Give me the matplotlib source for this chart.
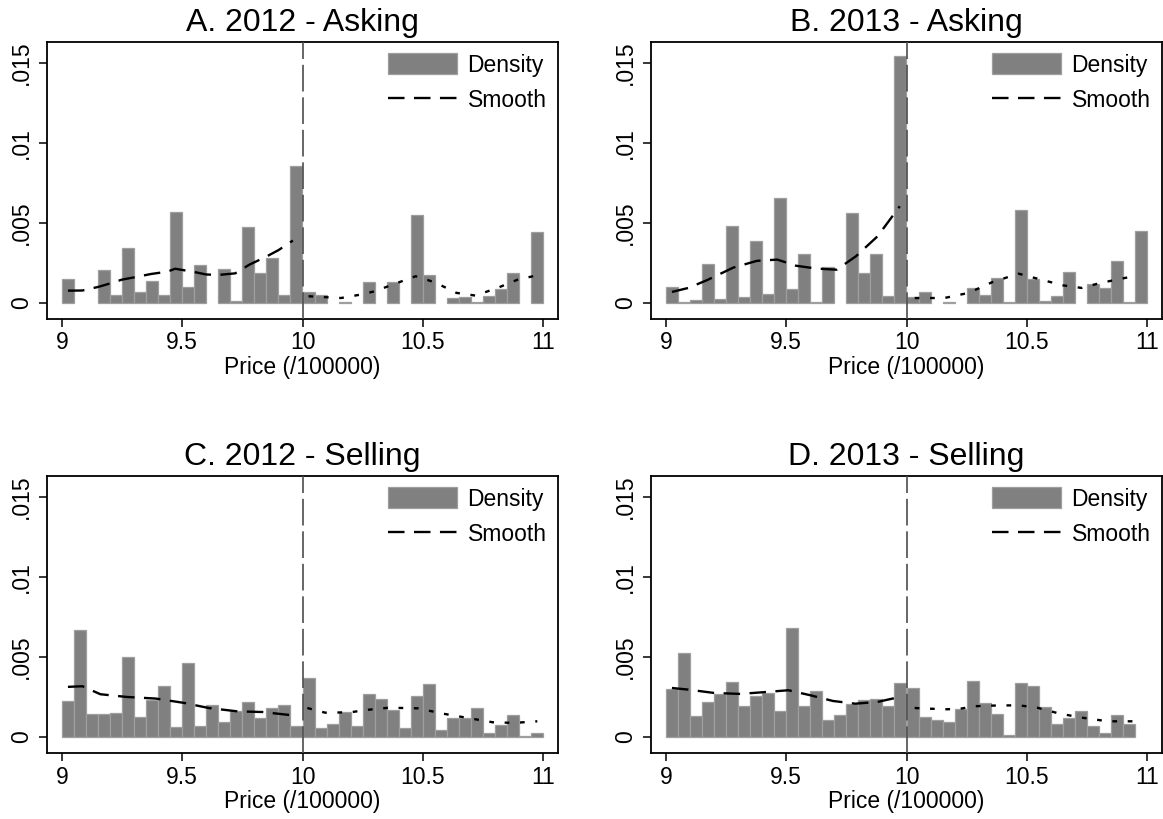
import matplotlib
matplotlib.use("Agg")
import matplotlib.pyplot as plt
import numpy as np

plt.rcParams['font.family'] = ['Liberation Sans', 'DejaVu Sans']

# histogram bins: 40 bins of width 0.05 between 9 and 11
bin_edges = np.linspace(9, 11, 41)
bin_width = 0.05

titles = ["A. 2012 - Asking", "B. 2013 - Asking", "C. 2012 - Selling", "D. 2013 - Selling"]

dens_ask_2012 = [0.0015, 0, 0, 0.00204, 0.0005, 0.00344, 0.00069, 0.0014, 0.0005, 0.00567,
                 0.00098, 0.00235, 0, 0.00212, 0.0001, 0.00475, 0.00185, 0.00283, 0.0005, 0.00858,
                 0.00069, 0.0005, 0, 0.00004, 0, 0.00133, 0, 0.00133, 0, 0.0055,
                 0.00173, 0, 0.0003, 0.0004, 0.00006, 0.00046, 0.0009, 0.00188, 0, 0.00442]
dens_ask_2013 = [0.001, 0.00004, 0.0002, 0.00242, 0.00027, 0.00483, 0.0004, 0.0039, 0.00054, 0.00656,
                 0.0009, 0.00306, 0.00008, 0.00227, 0, 0.0056, 0.00188, 0.00308, 0.00042, 0.01542,
                 0.00035, 0.00069, 0, 0.00004, 0, 0.00094, 0.00052, 0.00154, 0.00008, 0.00581,
                 0.00152, 0.00012, 0.00042, 0.00194, 0, 0.0012, 0.00096, 0.00263, 0.00004, 0.00452]
dens_sell_2012 = [0.00223, 0.0067, 0.00142, 0.00146, 0.00152, 0.00498, 0.00125, 0.00233, 0.00317, 0.0006,
                  0.00465, 0.00069, 0.002, 0.00092, 0.00163, 0.00217, 0.00117, 0.00179, 0.00198, 0.00071,
                  0.00371, 0.00054, 0.00081, 0.00158, 0.00071, 0.00269, 0.00237, 0.00169, 0.00054, 0.00254,
                  0.00333, 0.00046, 0.00121, 0.00121, 0.00181, 0.00023, 0.00073, 0.00138, 0.00008, 0.00027]
dens_sell_2013 = [0.003, 0.00525, 0.00131, 0.00219, 0.00271, 0.00344, 0.00196, 0.00254, 0.00275, 0.00165,
                  0.00679, 0.00192, 0.00285, 0.00104, 0.00135, 0.00204, 0.00229, 0.0024, 0.00194, 0.00335,
                  0.00304, 0.00125, 0.00106, 0.00096, 0.00175, 0.00348, 0.00215, 0.00144, 0.00012, 0.0034,
                  0.00321, 0.00185, 0.00083, 0.00121, 0.0016, 0.00069, 0.00025, 0.00138, 0.00083, 0]

# smoothed densities, fitted separately below and above 10
sm_a_lo_x = [9.025, 9.085, 9.15, 9.2, 9.25, 9.3, 9.37, 9.44, 9.47, 9.545, 9.6, 9.65, 9.72, 9.78, 9.85, 9.9, 9.96]
sm_a_lo_y = [0.00077, 0.00078, 0.001, 0.00122, 0.00146, 0.0016, 0.00181, 0.00196, 0.00214, 0.00195,
             0.00178, 0.00175, 0.00185, 0.0024, 0.0029, 0.0033, 0.0039]
sm_a_hi_x = [10.025, 10.1, 10.16, 10.24, 10.3, 10.375, 10.47, 10.55, 10.64, 10.72, 10.82, 10.895, 10.97]
sm_a_hi_y = [0.00042, 0.00036, 0.00031, 0.00052, 0.00073, 0.00115, 0.00167, 0.00129, 0.00063, 0.00046,
             0.001, 0.00146, 0.00171]

sm_b_lo_x = [9.025, 9.093, 9.17, 9.28, 9.378, 9.463, 9.54, 9.625, 9.71, 9.79, 9.88, 9.972]
sm_b_lo_y = [0.00069, 0.00094, 0.00142, 0.00221, 0.00263, 0.00271, 0.00233, 0.00215, 0.00208, 0.00292,
             0.00417, 0.00604]
sm_b_hi_x = [10.034, 10.157, 10.258, 10.358, 10.466, 10.559, 10.651, 10.728, 10.806, 10.92, 10.96]
sm_b_hi_y = [0.00031, 0.00031, 0.00063, 0.00131, 0.00183, 0.00146, 0.0011, 0.00094, 0.00125, 0.0016, 0.00167]

sm_c_lo_x = [9.025, 9.085, 9.16, 9.27, 9.39, 9.507, 9.61, 9.73, 9.834, 9.96]
sm_c_lo_y = [0.00313, 0.00317, 0.00267, 0.0025, 0.0024, 0.00213, 0.00181, 0.0016, 0.00156, 0.00135]
sm_c_hi_x = [10.02, 10.094, 10.197, 10.279, 10.36, 10.479, 10.583, 10.687, 10.79, 10.88, 10.976]
sm_c_hi_y = [0.00181, 0.00152, 0.00154, 0.00171, 0.00183, 0.00179, 0.00146, 0.00119, 0.00092, 0.00088, 0.00098]

sm_d_lo_x = [9.025, 9.093, 9.2, 9.309, 9.417, 9.509, 9.602, 9.694, 9.787, 9.88, 9.972]
sm_d_lo_y = [0.00306, 0.00296, 0.00275, 0.00269, 0.00281, 0.00292, 0.0026, 0.00225, 0.00208, 0.00219, 0.0025]
sm_d_hi_x = [10.034, 10.157, 10.219, 10.281, 10.358, 10.466, 10.543, 10.636, 10.728, 10.836, 10.96]
sm_d_hi_y = [0.00181, 0.00173, 0.00175, 0.00192, 0.00196, 0.00198, 0.00183, 0.00146, 0.00121, 0.00098, 0.00098]

densities = [dens_ask_2012, dens_ask_2013, dens_sell_2012, dens_sell_2013]
smooth_lo = [(sm_a_lo_x, sm_a_lo_y), (sm_b_lo_x, sm_b_lo_y), (sm_c_lo_x, sm_c_lo_y), (sm_d_lo_x, sm_d_lo_y)]
smooth_hi = [(sm_a_hi_x, sm_a_hi_y), (sm_b_hi_x, sm_b_hi_y), (sm_c_hi_x, sm_c_hi_y), (sm_d_hi_x, sm_d_hi_y)]

xticks = [9, 9.5, 10, 10.5, 11]
xtick_labels = ["9", "9.5", "10", "10.5", "11"]
yticks = [0, 0.005, 0.01, 0.015]
ytick_labels = ["0", ".005", ".01", ".015"]

W, H = 1163, 819
fig = plt.figure(figsize=(W / 100, H / 100), dpi=100)
fig.patch.set_facecolor('white')

# axes frames in pixels: (left, bottom) from the top-left corner
frames = [(47, 319), (651, 319), (47, 753), (651, 753)]
ax_w, ax_h = 511, 277

for i in range(4):
    left, bottom = frames[i]
    ax = fig.add_axes([left / W, (H - bottom) / H, ax_w / W, ax_h / H])
    heights = np.array(densities[i])
    lefts = bin_edges[:-1]
    keep = heights > 0
    bars = ax.bar(lefts[keep], heights[keep], width=bin_width, align='edge',
                  facecolor='#808080', edgecolor='#9e9e9e', linewidth=0.9, zorder=2)

    lx, ly = smooth_lo[i]
    hx, hy = smooth_hi[i]
    sm_line, = ax.plot(lx, ly, color='black', lw=1.7, dashes=(7, 4), zorder=3)
    ax.plot(hx, hy, color='black', lw=1.7, dashes=(2, 4.5), zorder=3)

    ax.axvline(10, color='#4d4d4d', lw=1.2, dashes=(16, 3.5), zorder=4)

    ax.set_xlim(8.938, 11.062)
    ax.set_ylim(-0.001, 0.0163)
    ax.set_xticks(xticks)
    ax.set_xticklabels(xtick_labels)
    ax.set_yticks(yticks)
    ax.set_yticklabels(ytick_labels, rotation=90, va='center')
    ax.tick_params(axis='both', labelsize=16.5, length=6, width=1.1, color='black')
    ax.tick_params(axis='x', pad=3)
    ax.tick_params(axis='y', pad=4)
    for s in ax.spines.values():
        s.set_linewidth(1.3)
        s.set_color('black')
    ax.set_xlabel("Price (/100000)", fontsize=16.5, labelpad=1)
    ax.set_title(titles[i], fontsize=23, pad=8)

    ax.legend([bars, sm_line], ["Density", "Smooth"], loc='upper right', frameon=False,
              fontsize=16.5, handlelength=3.0, handleheight=1.0, handletextpad=0.45,
              labelspacing=0.55, borderaxespad=0.3, borderpad=0.2)

fig.savefig("out.png", dpi=100, facecolor='white')
